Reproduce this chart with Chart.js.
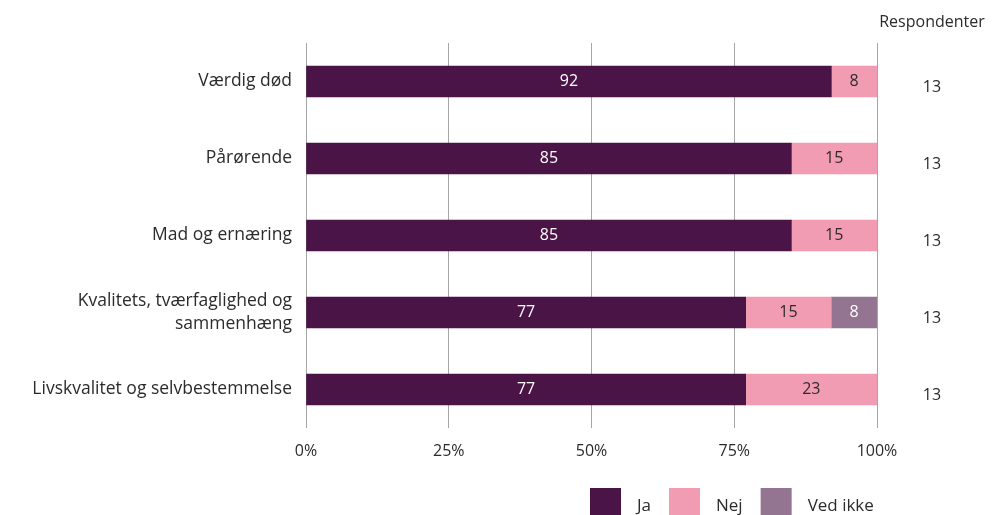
<!DOCTYPE html>
<html lang="da">
<head>
<meta charset="UTF-8">
<title>Respondenter</title>
<script src="https://cdn.jsdelivr.net/npm/chart.js"></script>
<style>
    html, body { margin: 0; padding: 0; background: #fff; }
    #wrap { width: 995px; height: 515px; }
</style>
</head>
<body>
<div id="wrap"><canvas id="chart" width="995" height="515"></canvas></div>
<script>
    const categories = [
        "Værdig død",
        "Pårørende",
        "Mad og ernæring",
        ["Kvalitets, tværfaglighed og", "sammenhæng"],
        "Livskvalitet og selvbestemmelse"
    ];
    const ja = [92, 85, 85, 77, 77];
    const nej = [8, 15, 15, 15, 23];
    const vedIkke = [0, 0, 0, 8, 0];
    const respondenter = [13, 13, 13, 13, 13];
    const xTicks = [0, 25, 50, 75, 100];

    const FONT = "'Open Sans', Lato, sans-serif";
    const TEXT = "#2b2b2b";

    // values written inside each bar segment
    const segmentLabels = {
        id: "segmentLabels",
        afterDatasetsDraw(chart) {
            const ctx = chart.ctx;
            ctx.save();
            ctx.font = "16px " + FONT;
            ctx.textAlign = "center";
            ctx.textBaseline = "middle";
            chart.data.datasets.forEach((ds, i) => {
                chart.getDatasetMeta(i).data.forEach((bar, j) => {
                    const v = ds.data[j];
                    if (!v) return;
                    ctx.fillStyle = ds.labelColor;
                    ctx.fillText(v, (bar.x + bar.base) / 2, bar.y);
                });
            });
            ctx.restore();
        }
    };

    // "Respondenter" column on the right plus bottom legend
    const extras = {
        id: "extras",
        afterDraw(chart) {
            const ctx = chart.ctx;
            const y = chart.scales.y;
            ctx.save();
            ctx.fillStyle = TEXT;
            ctx.font = "16px " + FONT;
            ctx.textAlign = "center";
            ctx.textBaseline = "middle";
            ctx.fillText("Respondenter", 932, 22);
            respondenter.forEach((n, i) => {
                ctx.fillText(n, 932, y.getPixelForValue(i) + 6);
            });

            // legend
            let lx = 590;
            ctx.textAlign = "left";
            ctx.font = "17px " + FONT;
            chart.data.datasets.forEach(ds => {
                ctx.fillStyle = ds.backgroundColor;
                ctx.fillRect(lx, 488, 31, 27);
                ctx.fillStyle = TEXT;
                ctx.fillText(ds.label, lx + 47, 506);
                lx += 47 + ctx.measureText(ds.label).width + 18;
            });
            ctx.restore();
        }
    };

    new Chart(document.getElementById("chart"), {
        type: "bar",
        data: {
            labels: categories,
            datasets: [
                { label: "Ja", data: ja, backgroundColor: "#4a1446", labelColor: "#ffffff" },
                { label: "Nej", data: nej, backgroundColor: "#f29cb4", labelColor: "#2b2b2b" },
                { label: "Ved ikke", data: vedIkke, backgroundColor: "#937491", labelColor: "#ffffff" }
            ]
        },
        options: {
            indexAxis: "y",
            responsive: false,
            animation: false,
            barThickness: 31,
            layout: { padding: { left: 0, right: 118, top: 43, bottom: 53 } },
            plugins: {
                legend: { display: false },
                tooltip: { enabled: false }
            },
            scales: {
                x: {
                    stacked: true,
                    min: 0,
                    max: 100,
                    afterBuildTicks(scale) {
                        scale.ticks = xTicks.map(v => ({ value: v }));
                    },
                    afterFit(scale) { scale.height = 34; },
                    border: { display: false },
                    grid: { color: "#a6a6a6", lineWidth: 1, drawTicks: false },
                    ticks: {
                        padding: 14,
                        color: TEXT,
                        font: { family: FONT, size: 16 },
                        callback: v => v + "%"
                    }
                },
                y: {
                    stacked: true,
                    afterFit(scale) { scale.width = 306; },
                    border: { display: false },
                    grid: { display: false, drawTicks: false },
                    ticks: {
                        padding: 14,
                        color: TEXT,
                        font: { family: FONT, size: 17.5, lineHeight: 1.35 }
                    }
                }
            }
        },
        plugins: [segmentLabels, extras]
    });
</script>
</body>
</html>
